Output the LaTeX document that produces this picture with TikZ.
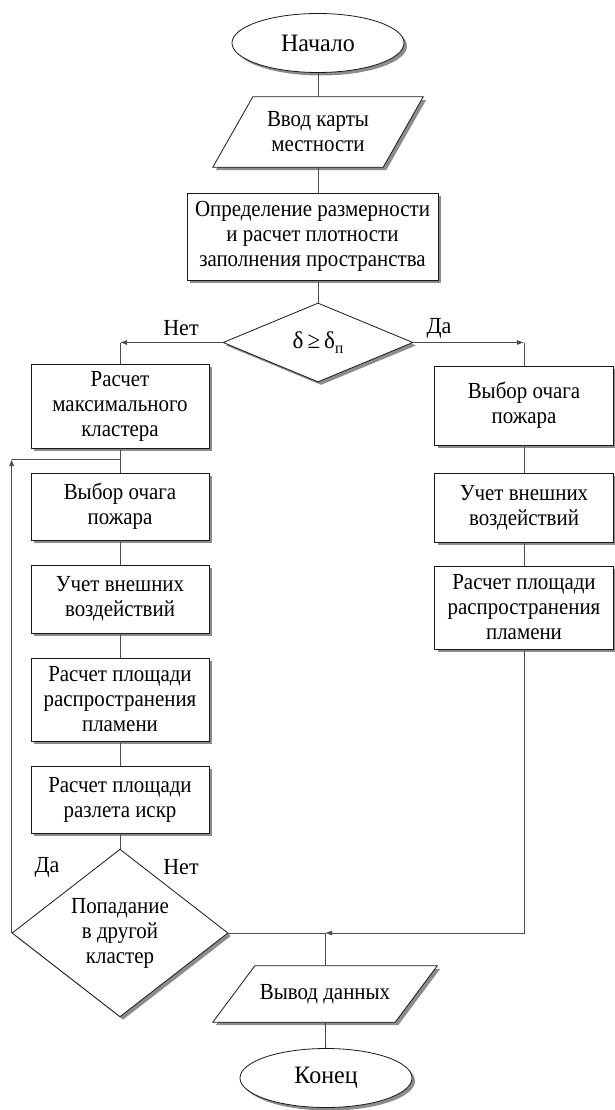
\documentclass[tikz,border=0pt]{standalone}
\usepackage{fontspec}
\setmainfont{Liberation Serif}[FakeStretch=0.91]
\newfontfamily\termfont{Liberation Serif}[FakeStretch=0.96]
\usetikzlibrary{shapes.geometric,shadows,arrows.meta,calc,backgrounds}
\begin{document}
\begin{tikzpicture}[x=1pt,y=-1pt,
  font=\fontsize{23}{25}\selectfont,
  shad/.style={drop shadow={shadow xshift=3pt,shadow yshift=-3pt,fill=black!45,opacity=1}},
  outl/.style={draw=black!90,line width=0.8pt,fill=white,shad},
  box/.style={outl,rectangle,align=center,inner sep=0pt,minimum width=178pt},
  term/.style={outl,ellipse,inner sep=0pt,minimum width=172pt,minimum height=59pt,font=\termfont\fontsize{25}{28}\selectfont},
  dec/.style={outl,diamond,align=center,inner sep=0pt},
  iobox/.style={rectangle,align=center,inner sep=0pt},
  conn/.style={draw=black!70,line width=0.8pt},
  tip/.style={-{Latex[length=7pt,width=5pt]}},
  lbl/.style={inner sep=0pt,font=\termfont\fontsize{23}{25}\selectfont}
]
\useasboundingbox (0,0) rectangle (615,1110);

% nodes
\node[term] (start) at (318,43) {Начало};
\node[iobox,minimum width=170pt,minimum height=70pt] (inp) at (318,132) {Ввод карты\\местности};
\node[box,minimum width=251pt,minimum height=87pt] (b0) at (312.5,236.5) {Определение размерности\\и расчет плотности\\заполнения пространства};
\node[dec,minimum width=190pt,minimum height=79pt] (d1) at (318,342.5) {\termfont\fontsize{24}{24}\selectfont δ\,≥\,δ\raisebox{-0.45ex}{\fontsize{16}{16}\selectfont п}};

\node[box,minimum height=84pt] (b1) at (120,406) {Расчет\\максимального\\кластера};
\node[box,minimum height=67pt] (b2) at (120,506.5) {Выбор очага\\пожара};
\node[box,minimum height=68pt] (b3) at (120,599) {Учет внешних\\воздействий};
\node[box,minimum height=83pt] (b4) at (120,699.5) {Расчет площади\\распространения\\пламени};
\node[box,minimum height=67pt] (b5) at (120,799.5) {Расчет площади\\разлета искр};
\node[dec,minimum width=216pt,minimum height=148pt] (d2) at (120,933) {Попадание\\в другой\\кластер};

\node[box,minimum width=179pt,minimum height=79pt] (r1) at (524,405.5) {Выбор очага\\пожара};
\node[box,minimum width=179pt,minimum height=69pt] (r2) at (524,507.5) {Учет внешних\\воздействий};
\node[box,minimum width=179pt,minimum height=83pt] (r3) at (524,607.5) {Расчет площади\\распространения\\пламени};

\node[iobox,minimum width=182pt,minimum height=56pt] (out) at (325,994) {Вывод данных};
\node[term] (end) at (326,1078) {Конец};

% parallelogram outlines
\begin{scope}[on background layer]
\draw[outl] ($(inp.north west)+(20,0)$) -- ($(inp.north east)+(20,0)$) -- ($(inp.south east)-(20,0)$) -- ($(inp.south west)-(20,0)$) -- cycle;
\draw[outl] ($(out.north west)+(21,0)$) -- ($(out.north east)+(21,0)$) -- ($(out.south east)-(21,0)$) -- ($(out.south west)-(21,0)$) -- cycle;
\end{scope}

% labels
\node[lbl] (l1) at (181,328) {Нет};
\node[lbl] (l2) at (439,328) {Да};
\node[lbl] (l3) at (47,867) {Да};
\node[lbl] (l4) at (181,867) {Нет};

% connectors
\draw[conn] (start) -- (inp);
\draw[conn] (inp.south) -- (inp.south |- b0.north);
\draw[conn] (b0.south -| d1.north) -- (d1.north);

\coordinate (cl) at (d1.west -| b1.north);
\coordinate (cr) at (d1.east -| r1.north);
\draw[conn,tip] (d1.west) -- (cl);
\draw[conn] (cl) -- (b1.north);
\draw[conn,tip] (d1.east) -- (cr);
\draw[conn] (cr) -- (r1.north);

\draw[conn] (b1) -- (b2);
\draw[conn] (b2) -- (b3);
\draw[conn] (b3) -- (b4);
\draw[conn] (b4) -- (b5);
\draw[conn] (b5) -- (d2);

\draw[conn] (r1) -- (r2);
\draw[conn] (r2) -- (r3);

% loop back
\coordinate (ly) at (0,459);
\coordinate (lc) at (d2.west |- ly);
\draw[conn,tip] (d2.west) -- (lc);
\draw[conn] (lc) -- (lc -| b1.south);

% merge
\coordinate (mj) at (out.north |- d2.east);
\draw[conn] (d2.east) -- (mj);
\draw[conn,tip] (r3.south) -- (r3.south |- d2.east) -- (mj);
\draw[conn] (mj) -- (out.north);
\draw[conn] (out) -- (end);
\end{tikzpicture}
\end{document}
